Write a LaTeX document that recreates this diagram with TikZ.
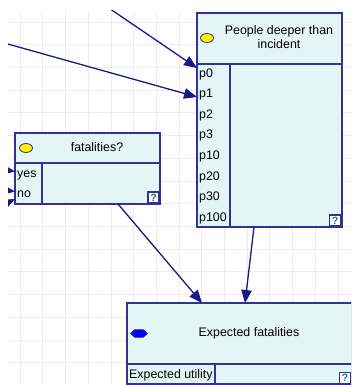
\documentclass[tikz,border=0pt]{standalone}
\usepackage{fontspec}
\setmainfont{Liberation Sans}
\usetikzlibrary{arrows.meta,shapes.geometric}
\definecolor{boxline}{RGB}{50,50,150}
\definecolor{boxfill}{RGB}{228,245,245}
\definecolor{arrowc}{RGB}{24,24,135}
\definecolor{gridc}{RGB}{236,236,240}
\definecolor{helpc}{RGB}{20,120,130}
\tikzset{
  gridline/.style={draw=gridc, line width=0.6pt},
  box/.style={draw=boxline, fill=boxfill, line width=1.2pt, rectangle, inner sep=0pt, outer sep=0pt, anchor=north west},
  inner/.style={draw=boxline, line width=1.2pt},
  lbl/.style={font=\fontsize{12.4}{14.5}\selectfont, text=black, inner sep=0pt, align=center},
  rowlbl/.style={font=\fontsize{12.4}{14.5}\selectfont, text=black, inner sep=0pt, anchor=base west},
  link/.style={draw=arrowc, line width=1.3pt, -{Triangle[length=13pt,width=10.5pt]}},
  chance/.style={ellipse, draw=boxline, fill=yellow, line width=0.8pt, minimum width=13pt, minimum height=9pt, inner sep=0pt},
  utilnode/.style={regular polygon, regular polygon sides=6, draw=boxline, fill=blue, line width=0.6pt, minimum size=9pt, inner sep=0pt, xscale=1.9},
  helpbox/.style={draw=boxline, fill=white, line width=1.2pt, minimum size=11pt, inner sep=0pt, font=\bfseries\fontsize{10.5}{10}\selectfont, text=helpc}
}
\begin{document}
\begin{tikzpicture}[x=1pt,y=-1pt]
\useasboundingbox (0,0) rectangle (351,385);
\begin{scope}
\clip (8,11) rectangle (351,385);
\foreach \i in {0,...,15} \draw[gridline] ({20+22.7*\i},11) -- ({20+22.7*\i},385);
\foreach \i in {0,...,16} \draw[gridline] (8,{22+22.7*\i}) -- (351,{22+22.7*\i});

% People deeper than incident
\node[box, minimum width=145pt, minimum height=214pt] (people) at (197,13) {};
\draw[inner] (197,64) -- (342,64);
\draw[inner] (230,64) -- (230,227);
\node[chance] (pyell) at (207,38) {};
\node[lbl] (ptitle) at (279,37) {People deeper than\\incident};
\node[rowlbl] (p0) at (199,77.5) {p0};
\node[rowlbl] (p1) at (199,98) {p1};
\node[rowlbl] (p2) at (199,118.5) {p2};
\node[rowlbl] (p3) at (199,139) {p3};
\node[rowlbl] (p10) at (199,159.5) {p10};
\node[rowlbl] (p20) at (199,180) {p20};
\node[rowlbl] (p30) at (199,200.5) {p30};
\node[rowlbl] (p100) at (199,221) {p100};
\node[helpbox] (phelp) at (335,220.5) {?};

% fatalities?
\node[box, minimum width=145pt, minimum height=71pt] (fatal) at (15,133) {};
\draw[inner] (15,163) -- (160,163);
\draw[inner] (42,163) -- (42,204);
\node[chance] (fyell) at (26,148) {};
\node[lbl] (ftitle) at (97,147) {fatalities?};
\node[rowlbl] (fyes) at (17,177.5) {yes};
\node[rowlbl] (fno) at (17,197.5) {no};
\node[helpbox] (fhelp) at (153.5,197.5) {?};

% Expected fatalities
\node[box, minimum width=225pt, minimum height=81pt] (ef) at (127,303) {};
\draw[inner] (127,364) -- (352,364);
\draw[inner] (215,364) -- (215,384);
\node[utilnode] (ehex) at (139,333.5) {};
\node[lbl] (etitle) at (249,333) {Expected fatalities};
\node[rowlbl] (eutil) at (129,378) {Expected utility};
\node[helpbox] (ehelp) at (345,378) {?};

% connectors
\coordinate (a1s) at (97,0);
\coordinate (a1e) at (197,68);
\coordinate (a2s) at (0,41.8);
\coordinate (a2e) at (197,97);
\coordinate (a3s) at (118,204);
\coordinate (a3e) at (202,303);
\coordinate (a4s) at (254,227);
\coordinate (a4e) at (245,303);
\coordinate (l1s) at (-20,166);
\coordinate (l1e) at (15,171.5);
\coordinate (l2s) at (-20,187);
\coordinate (l2e) at (15,191.5);
\coordinate (l3s) at (-20,216);
\coordinate (l3e) at (15,199);
\draw[link] (a1s) -- (a1e);
\draw[link] (a2s) -- (a2e);
\draw[link] (a3s) -- (a3e);
\draw[link] (a4s) -- (a4e);
\draw[link] (l1s) -- (l1e);
\draw[link] (l2s) -- (l2e);
\draw[link] (l3s) -- (l3e);
\end{scope}
\end{tikzpicture}
\end{document}
